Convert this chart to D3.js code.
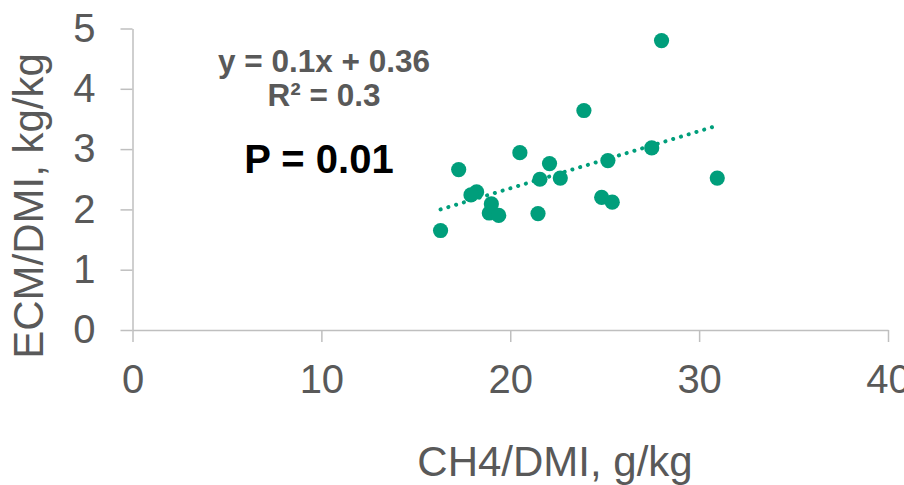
<!DOCTYPE html>
<html>
<head>
<meta charset="utf-8">
<script src="https://cdn.jsdelivr.net/npm/d3@7"></script>
<style>
  html, body { margin: 0; padding: 0; background: #fff; }
  svg { display: block; font-family: "Liberation Sans", Arial, sans-serif; }
</style>
</head>
<body>
<svg id="chart" width="904" height="485"></svg>
<script>
// ---- data ----
const ch4Dmi = [28.01, 23.90, 20.51, 17.27, 22.08, 27.49, 25.17, 30.96, 21.57, 22.65,
                18.22, 17.92, 19.00, 24.84, 25.40, 18.89, 19.39, 21.47, 16.31];
const ecmDmi = [4.80, 3.64, 2.94, 2.66, 2.76, 3.02, 2.81, 2.52, 2.50, 2.52,
                2.29, 2.24, 2.09, 2.20, 2.12, 1.94, 1.90, 1.93, 1.65];
const xTicks = [0, 10, 20, 30, 40];
const yTicks = [0, 1, 2, 3, 4, 5];
const xTitle = "CH4/DMI, g/kg";
const yTitle = "ECM/DMI, kg/kg";
const eqLabel = "y = 0.1x + 0.36";
const r2Label = "R² = 0.3";
const pLabel = "P = 0.01";

const points = ch4Dmi.map((x, i) => ({ x, y: ecmDmi[i] }));

// ---- layout ----
const svg = d3.select("#chart");
const plotLeft = 132.5, plotRight = 888, plotTop = 28.5, plotBottom = 330;
const green = "#009e7b";
const axisColor = "#bfbfbf";
const textColor = "#595959";

const x = d3.scaleLinear().domain([0, 40]).range([plotLeft, plotRight]);
const y = d3.scaleLinear().domain([0, 5]).range([plotBottom, plotTop]);

// x axis
const gx = svg.append("g").attr("transform", `translate(0,${plotBottom})`)
  .call(d3.axisBottom(x).tickValues(xTicks).tickFormat(d3.format("d"))
        .tickSize(12).tickSizeOuter(0).tickPadding(23));
// y axis
const gy = svg.append("g").attr("transform", `translate(${plotLeft},0)`)
  .call(d3.axisLeft(y).tickValues(yTicks).tickFormat(d3.format("d"))
        .tickSize(12).tickSizeOuter(0).tickPadding(25));

[gx, gy].forEach(g => {
  g.selectAll("path.domain, line").attr("stroke", axisColor).attr("stroke-width", 1.5);
  g.selectAll("text").attr("fill", textColor).style("font-size", "40px")
    .style("font-family", "'Liberation Sans', Arial, sans-serif");
});

// axis titles
svg.append("text").attr("x", 555).attr("y", 476).attr("text-anchor", "middle")
  .attr("fill", textColor).style("font-size", "42px").text(xTitle);
svg.append("text").attr("transform", "translate(43,206) rotate(-90)")
  .attr("text-anchor", "middle").attr("fill", textColor)
  .style("font-size", "42px").text(yTitle);

// linear regression from the points
const mx = d3.mean(points, d => d.x), my = d3.mean(points, d => d.y);
const sxy = d3.sum(points, d => (d.x - mx) * (d.y - my));
const sxx = d3.sum(points, d => (d.x - mx) ** 2);
const slope = sxy / sxx, intercept = my - slope * mx;
const [xmin, xmax] = d3.extent(points, d => d.x);

svg.append("line")
  .attr("x1", x(xmin)).attr("y1", y(slope * xmin + intercept))
  .attr("x2", x(xmax)).attr("y2", y(slope * xmax + intercept))
  .attr("stroke", green).attr("stroke-width", 4)
  .attr("stroke-linecap", "round").attr("stroke-dasharray", "0.1 8");

// points
svg.append("g").selectAll("circle").data(points).join("circle")
  .attr("cx", d => x(d.x)).attr("cy", d => y(d.y)).attr("r", 7.6)
  .attr("fill", green);

// annotations
svg.append("text").attr("x", 324).attr("y", 72).attr("text-anchor", "middle")
  .attr("fill", textColor).style("font-size", "31.5px").style("font-weight", "bold")
  .text(eqLabel);
svg.append("text").attr("x", 324).attr("y", 106).attr("text-anchor", "middle")
  .attr("fill", textColor).style("font-size", "31.5px").style("font-weight", "bold")
  .text(r2Label);
svg.append("text").attr("x", 319).attr("y", 173).attr("text-anchor", "middle")
  .attr("fill", "#000").style("font-size", "40px").style("font-weight", "bold")
  .text(pLabel);
</script>
</body>
</html>
